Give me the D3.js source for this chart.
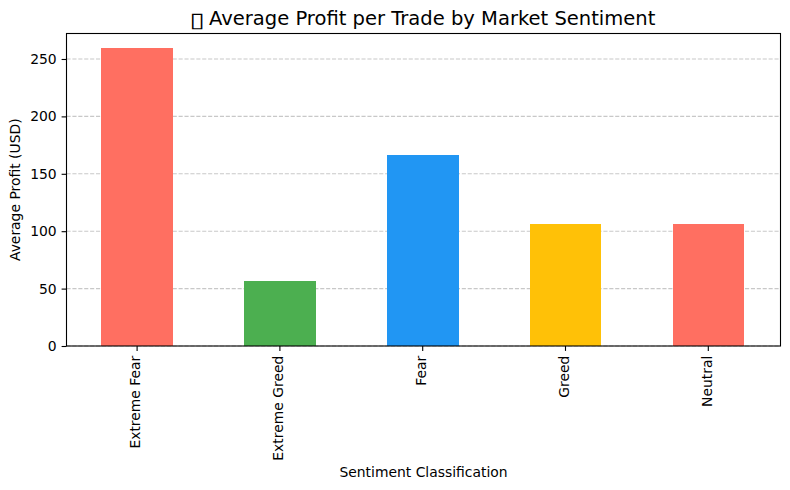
<!DOCTYPE html>
<html>
<head>
<meta charset="utf-8">
<script src="https://cdn.jsdelivr.net/npm/d3@7"></script>
<style>
  html, body { margin: 0; padding: 0; background: #fff; }
  text { font-family: "DejaVu Sans", sans-serif; fill: #000; }
</style>
</head>
<body>
<svg id="chart"></svg>
<script>
// Values
const categories = ["Extreme Fear", "Extreme Greed", "Fear", "Greed", "Neutral"];
const avgProfit = [259.6, 56.6, 166.4, 106.3, 106.1];
const barColors = ["#FF6F61", "#4CAF50", "#2196F3", "#FFC107", "#FF6F61"];
const yTicks = [0, 50, 100, 150, 200, 250];

const W = 790, H = 490;
const margin = { top: 33.5, right: 9.5, bottom: 144, left: 66.5 };
const width = W - margin.left - margin.right;
const height = H - margin.top - margin.bottom;

const svg = d3.select("#chart")
    .attr("width", W)
    .attr("height", H)
    .style("display", "block");

const g = svg.append("g")
    .attr("transform", `translate(${margin.left},${margin.top})`);

const x = d3.scaleBand()
    .domain(categories)
    .range([-0.8, width - 0.8])
    .paddingInner(0.5)
    .paddingOuter(0.25);

const y = d3.scaleLinear()
    .domain([0, 272.2])
    .range([height, 0]);

// Grid
g.append("g")
    .selectAll("line")
    .data(yTicks)
    .enter().append("line")
    .attr("x1", 0)
    .attr("x2", width)
    .attr("y1", d => y(d))
    .attr("y2", d => y(d))
    .attr("stroke", "#b0b0b0")
    .attr("stroke-opacity", 0.7)
    .attr("stroke-width", 1.1)
    .attr("stroke-dasharray", "4.1,1.8");

// Bars
g.selectAll(".bar")
    .data(categories)
    .enter().append("rect")
    .attr("class", "bar")
    .attr("x", d => x(d))
    .attr("y", (d, i) => y(avgProfit[i]))
    .attr("width", x.bandwidth() + 0.1)
    .attr("height", (d, i) => height - y(avgProfit[i]))
    .attr("fill", (d, i) => barColors[i])
    .attr("shape-rendering", "crispEdges");

// Axes
const xAxis = d3.axisBottom(x).tickSize(4.9).tickPadding(4.9);
const yAxis = d3.axisLeft(y).tickValues(yTicks).tickSize(4.9).tickPadding(4.9);

const xG = g.append("g")
    .attr("transform", `translate(0,${height})`)
    .call(xAxis);
xG.select(".domain").remove();
xG.selectAll("line").attr("stroke", "#000").attr("stroke-width", 1.1);
xG.selectAll("text")
    .attr("transform", "rotate(-90)")
    .attr("x", -9.7)
    .attr("y", 0)
    .attr("dy", "0.24em")
    .attr("text-anchor", "end")
    .style("font-size", "13.9px")
    .style("font-family", '"DejaVu Sans", sans-serif');

const yG = g.append("g").call(yAxis);
yG.select(".domain").remove();
yG.selectAll("line").attr("stroke", "#000").attr("stroke-width", 1.1);
yG.selectAll("text")
    .style("font-size", "13.9px")
    .style("font-family", '"DejaVu Sans", sans-serif');

// Frame
g.append("rect")
    .attr("width", width)
    .attr("height", height)
    .attr("fill", "none")
    .attr("stroke", "#000")
    .attr("stroke-width", 1.1);

// Title and axis labels
svg.append("text")
    .attr("transform", "translate(189.5,26.5) scale(1.3,1)")
    .style("font-size", "21px")
    .text("\u25AF");

svg.append("text")
    .attr("x", 209)
    .attr("y", 25)
    .style("font-size", "19.55px")
    .text("Average Profit per Trade by Market Sentiment");

svg.append("text")
    .attr("x", margin.left + width / 2)
    .attr("y", 477)
    .attr("text-anchor", "middle")
    .style("font-size", "13.9px")
    .text("Sentiment Classification");

svg.append("text")
    .attr("transform", `translate(20,${margin.top + height / 2}) rotate(-90)`)
    .attr("text-anchor", "middle")
    .style("font-size", "13.9px")
    .text("Average Profit (USD)");
</script>
</body>
</html>
